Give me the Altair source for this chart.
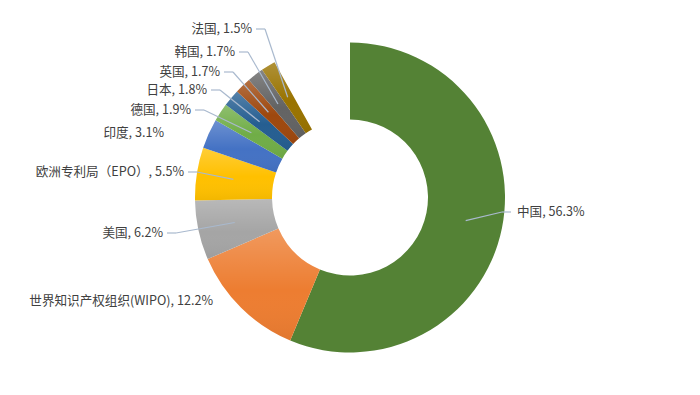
import altair as alt
import pandas as pd

# ---- data ----
names = ["中国", "世界知识产权组织(WIPO)", "美国", "欧洲专利局（EPO）", "印度",
         "德国", "日本", "英国", "韩国", "法国"]
shares = [56.3, 12.2, 6.2, 5.5, 3.1, 1.9, 1.8, 1.7, 1.7, 1.5]
colors = ["#548235", "#ED7D31", "#A5A5A5", "#FFC000", "#4472C4",
          "#70AD47", "#255E91", "#9E480E", "#636363", "#997300"]

# ---- label layout (annotation placement) ----
label_x = [517, 213, 163, 184, 164, 191, 207, 220, 235, 252]
label_y = [212, 301, 233, 172, 133, 110, 90, 72, 52, 29]
label_side = ["left", "right", "right", "right", "right", "right", "right", "right", "right", "right"]
has_leader = [1, 0, 1, 1, 0, 1, 1, 1, 1, 1]

W, H = 700, 395
CX, CY = W / 2, H / 2
R_IN, R_OUT, R_LEAD = 78, 155, 118

df = pd.DataFrame({
    "name": names,
    "share": shares,
    "order": list(range(len(names))),
    "lx": label_x,
    "ly": label_y,
    "side": label_side,
    "leader": has_leader,
})
df["label"] = [f"{n}, {s}%" for n, s in zip(names, shares)]

base = alt.Chart(df).transform_window(
    cum="sum(share)", sort=[alt.SortField("order")], frame=[None, 0]
).transform_calculate(
    start="datum.cum - datum.share",
    mid="datum.cum - datum.share / 2",
)

theta_scale = alt.Scale(domain=[0, 100])

arcs = base.mark_arc(innerRadius=R_IN, outerRadius=R_OUT).encode(
    theta=alt.Theta("start:Q", scale=theta_scale, stack=False),
    theta2="cum:Q",
    color=alt.Color("name:N", scale=alt.Scale(domain=names, range=colors), legend=None),
)

shade = base.transform_filter("datum.name != '中国'").mark_arc(
    innerRadius=R_IN, outerRadius=R_OUT,
    fill=alt.Gradient(
        gradient="linear",
        stops=[alt.GradientStop(color="rgba(255,255,255,0.22)", offset=0),
               alt.GradientStop(color="rgba(255,255,255,0)", offset=0.55),
               alt.GradientStop(color="rgba(0,0,0,0.05)", offset=1)],
        x1=0, x2=0, y1=0, y2=1,
    ),
).encode(
    theta=alt.Theta("start:Q", scale=theta_scale, stack=False),
    theta2="cum:Q",
)

lead = base.transform_filter("datum.leader == 1").transform_calculate(
    sx=f"{CX} + {R_LEAD} * sin(2 * PI * datum.mid / 100)",
    sy=f"{CY} - {R_LEAD} * cos(2 * PI * datum.mid / 100)",
    ex="datum.side == 'right' ? datum.lx + 13 : datum.lx - 15",
    tx="datum.side == 'right' ? datum.lx + 4 : datum.lx - 6",
)

diag = lead.mark_rule(color="#A9B9CE", strokeWidth=1.2).encode(
    x=alt.X("sx:Q", scale=None), y=alt.Y("sy:Q", scale=None),
    x2="ex:Q", y2="ly:Q",
)
stub = lead.mark_rule(color="#A9B9CE", strokeWidth=1.2).encode(
    x=alt.X("ex:Q", scale=None), y=alt.Y("ly:Q", scale=None),
    x2="tx:Q", y2="ly:Q",
)

text_kw = dict(font="Noto Sans CJK SC", fontSize=12.6, color="#404040", baseline="middle")
labels_r = base.transform_filter("datum.side == 'right'").mark_text(align="right", **text_kw).encode(
    x=alt.X("lx:Q", scale=None), y=alt.Y("ly:Q", scale=None), text="label:N",
)
labels_l = base.transform_filter("datum.side == 'left'").mark_text(align="left", **text_kw).encode(
    x=alt.X("lx:Q", scale=None), y=alt.Y("ly:Q", scale=None), text="label:N",
)

chart = alt.layer(arcs, shade, diag, stub, labels_r, labels_l).properties(
    width=W, height=H, padding=0, autosize="none", background="white",
).configure_view(strokeWidth=0)

chart.save("out.html", embed_options={"renderer": "svg", "actions": False})
